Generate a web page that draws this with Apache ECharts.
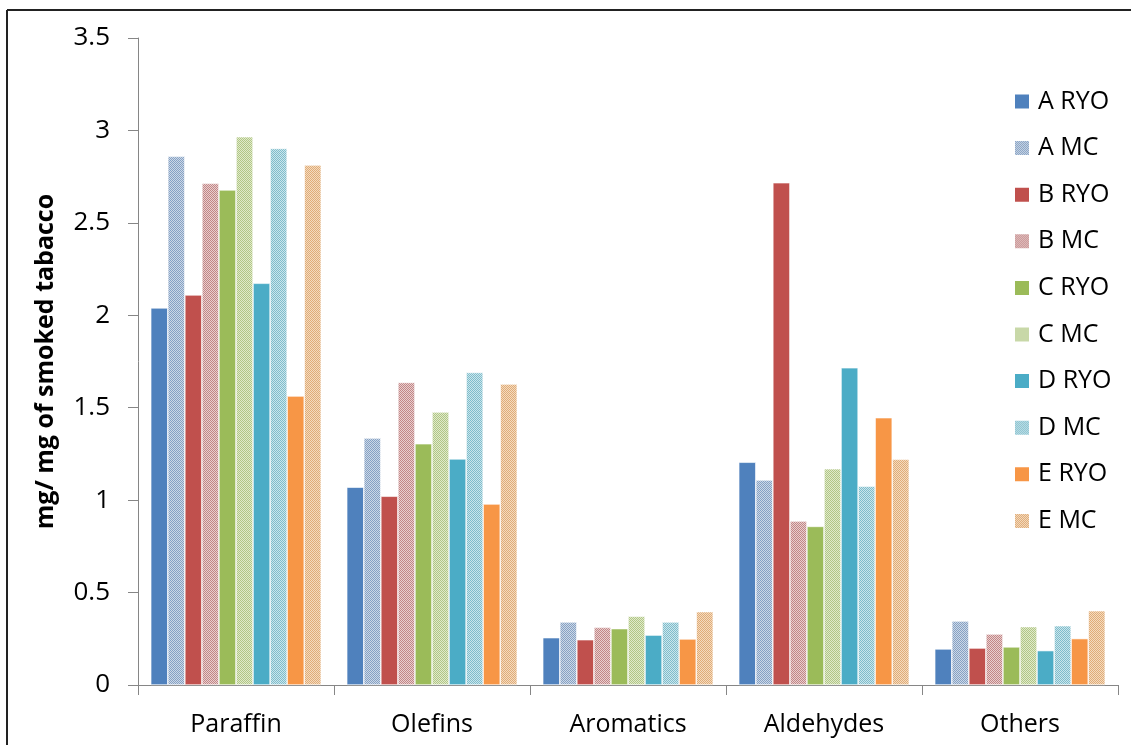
<!DOCTYPE html>
<html>
<head>
<meta charset="utf-8">
<script src="https://cdn.jsdelivr.net/npm/echarts@6/dist/echarts.min.js"></script>
<style>
html,body{margin:0;padding:0;background:#fff;}
#chart{width:1131px;height:745px;}
</style>
</head>
<body>
<div id="chart"></div>
<script>
const categories = ['Paraffin', 'Olefins', 'Aromatics', 'Aldehydes', 'Others'];
const seriesNames = ['A RYO', 'A MC', 'B RYO', 'B MC', 'C RYO', 'C MC', 'D RYO', 'D MC', 'E RYO', 'E MC'];
const aRYO = [2.04, 1.07, 0.256, 1.205, 0.195];
const aMC  = [2.86, 1.336, 0.341, 1.109, 0.346];
const bRYO = [2.11, 1.021, 0.245, 2.717, 0.200];
const bMC  = [2.714, 1.637, 0.312, 0.887, 0.276];
const cRYO = [2.678, 1.305, 0.305, 0.858, 0.206];
const cMC  = [2.966, 1.477, 0.372, 1.170, 0.316];
const dRYO = [2.173, 1.223, 0.270, 1.716, 0.186];
const dMC  = [2.903, 1.691, 0.341, 1.076, 0.321];
const eRYO = [1.563, 0.979, 0.249, 1.446, 0.251];
const eMC  = [2.813, 1.628, 0.397, 1.221, 0.402];
const yTicks = [0, 0.5, 1, 1.5, 2, 2.5, 3, 3.5];

const values = [aRYO, aMC, bRYO, bMC, cRYO, cMC, dRYO, dMC, eRYO, eMC];

function pattern(fg, bg) {
  const c = document.createElement('canvas');
  c.width = 2; c.height = 2;
  const ctx = c.getContext('2d');
  ctx.fillStyle = bg; ctx.fillRect(0, 0, 2, 2);
  ctx.fillStyle = fg; ctx.fillRect(0, 0, 1, 1); ctx.fillRect(1, 1, 1, 1);
  return { image: c, repeat: 'repeat' };
}

const colors = [
  '#4F81BD', pattern('#86A1C4', '#CCD8E6'),
  '#C0504D', pattern('#C28686', '#E8CFCF'),
  '#9BBB59', pattern('#B1C686', '#E0EACB'),
  '#4BACC6', pattern('#80BCCB', '#CAE6EC'),
  '#F79646', pattern('#E0AC78', '#F4DBBF')
];

const font = 'Open Sans, Noto Sans, sans-serif';

const chart = echarts.init(document.getElementById('chart'), null, { renderer: 'canvas' });
chart.setOption({
  backgroundColor: '#fff',
  animation: false,
  grid: { left: 138, right: 13, top: 38, bottom: 60, containLabel: false },
  legend: {
    orient: 'vertical',
    left: 1013,
    top: 89,
    padding: 0,
    itemWidth: 16,
    itemHeight: 16,
    itemGap: 21.6,
    icon: 'rect',
    data: seriesNames,
    textStyle: { fontFamily: font, fontSize: 25, color: '#000', lineHeight: 21, padding: [0, 0, 0, 3] }
  },
  xAxis: {
    type: 'category',
    data: categories,
    axisLine: { lineStyle: { color: '#868686', width: 1 } },
    axisTick: { show: true, length: 10, lineStyle: { color: '#868686' } },
    axisLabel: { fontFamily: font, fontSize: 25, color: '#000', margin: 27 },
    splitLine: { show: false }
  },
  yAxis: {
    type: 'value',
    min: 0, max: 3.5, interval: 0.5,
    name: 'mg/ mg of smoked tabacco',
    nameLocation: 'middle',
    nameGap: 80,
    nameTextStyle: { fontFamily: font, fontSize: 25, fontWeight: 'bold', color: '#000' },
    axisLine: { show: true, lineStyle: { color: '#868686', width: 1 } },
    axisTick: { show: true, length: 10, lineStyle: { color: '#868686' } },
    axisLabel: { fontFamily: font, fontSize: 26, color: '#000', margin: 28,
      formatter: v => (yTicks.indexOf(v) >= 0 ? String(v) : '') },
    splitLine: { show: false }
  },
  graphic: [
    { type: 'line', shape: { x1: 7, y1: 10, x2: 1131, y2: 10 }, style: { stroke: '#222', lineWidth: 2 } },
    { type: 'line', shape: { x1: 7, y1: 10, x2: 7, y2: 745 }, style: { stroke: '#222', lineWidth: 2 } }
  ],
  series: seriesNames.map((n, i) => ({
    name: n,
    type: 'bar',
    data: values[i],
    barGap: '0%',
    barCategoryGap: '13%',
    itemStyle: { color: colors[i], borderColor: '#fff', borderWidth: 0.6 }
  }))
});
</script>
</body>
</html>
